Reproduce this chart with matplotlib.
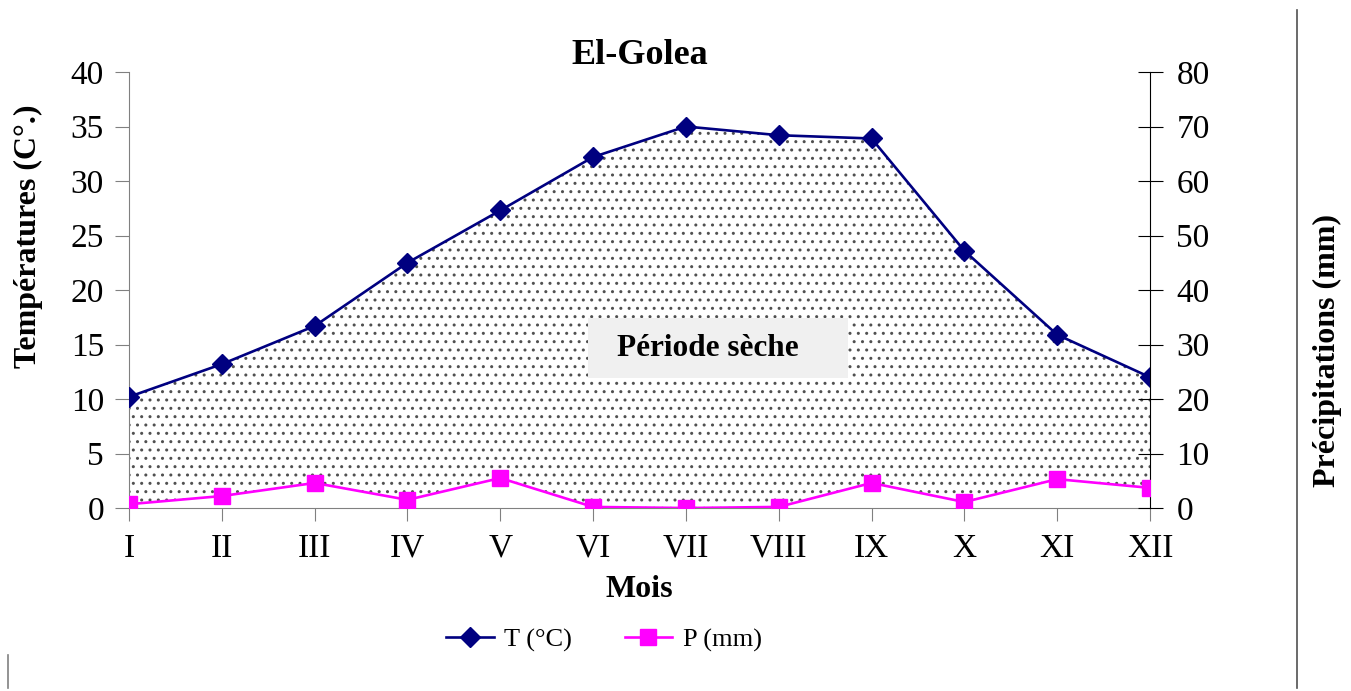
import matplotlib.pyplot as plt
from matplotlib.lines import Line2D
from matplotlib.patches import Rectangle
import numpy as np

plt.rcParams['font.family'] = ['Liberation Serif', 'DejaVu Serif']
plt.rcParams['hatch.color'] = '#505050'
plt.rcParams['hatch.linewidth'] = 1.0

# data
months = ['I', 'II', 'III', 'IV', 'V', 'VI', 'VII', 'VIII', 'IX', 'X', 'XI', 'XII']
temp = [10.2, 13.2, 16.7, 22.5, 27.3, 32.2, 35.0, 34.2, 33.9, 23.6, 15.9, 12.0]
precip = [0.7, 2.2, 4.6, 1.5, 5.5, 0.2, 0.0, 0.2, 4.6, 1.1, 5.3, 3.7]

x = np.arange(len(months))

fig = plt.figure(figsize=(13.51, 6.91), dpi=100)
ax = fig.add_axes([0.0955, 0.2648, 0.7557, 0.631])
ax2 = ax.twinx()

# dry period = area between T and P/2 (P axis is 2x T axis)
p_half = np.array(precip) / 2.0
ax.fill_between(x, p_half, temp, facecolor='white', edgecolor='#505050',
                hatch='..', linewidth=0, zorder=1)

ax.plot(x, temp, color='#000080', lw=1.9, marker='D', ms=10, zorder=3)
ax2.plot(x, precip, color='#ff00ff', lw=1.9, marker='s', ms=11, zorder=3)

ax.set_xlim(0, 11)
ax.set_ylim(0, 40)
ax2.set_ylim(0, 80)
ax.set_yticks(range(0, 41, 5))
ax2.set_yticks(range(0, 81, 10))
ax.set_xticks(x)
ax.set_xticklabels(months)

ax.spines['top'].set_visible(False)
ax2.spines['top'].set_visible(False)
ax.spines['right'].set_visible(False)
ax2.spines['left'].set_visible(False)
ax2.spines['bottom'].set_visible(False)
ax.spines['left'].set_color('#808080')
ax.spines['bottom'].set_color('#808080')
ax2.spines['right'].set_color('black')

ax.tick_params(axis='y', direction='out', length=10, color='#808080', labelsize=24, pad=8)
ax.tick_params(axis='x', direction='out', length=9, color='#808080', labelsize=24, pad=9)
ax2.tick_params(axis='y', direction='inout', length=18, color='black', labelsize=24, pad=10)

ax.set_title('El-Golea', fontsize=26, fontweight='bold', pad=2)
ax.set_xlabel('Mois', fontsize=23, fontweight='bold', labelpad=8)
ax.set_ylabel('Températures (C°.)', fontsize=23, fontweight='bold')
ax.yaxis.set_label_coords(-0.084, 0.624)
ax2.set_ylabel('Précipitations (mm)', fontsize=23, fontweight='bold')
ax2.yaxis.set_label_coords(1.16, 0.362)

# label box for the dry period
ax.add_patch(Rectangle((0.4496, 0.2982), 0.2547, 0.1376, transform=ax.transAxes,
                       facecolor='#f0f0f0', edgecolor='none', zorder=4))
ax.text(0.478, 0.367, 'Période sèche', transform=ax.transAxes, fontsize=22.5,
        fontweight='bold', va='center', ha='left', zorder=5)

ax.set_zorder(ax2.get_zorder() + 1)
ax.patch.set_visible(False)
ax2.set_zorder(ax.get_zorder() + 1)
ax2.patch.set_visible(False)

handles = [Line2D([], [], color='#000080', lw=1.9, marker='D', ms=10),
           Line2D([], [], color='#ff00ff', lw=1.9, marker='s', ms=11)]
fig.legend(handles, ['T (°C)', 'P (mm)'], loc='center', bbox_to_anchor=(0.447, 0.074),
           ncol=2, frameon=False, fontsize=19, handlelength=1.8, columnspacing=2.0,
           handletextpad=0.4)

# frame lines of the original page
fig.add_artist(Line2D([0.96, 0.96], [0.004, 0.986], color='#505050', lw=1.2))
fig.add_artist(Line2D([0.006, 0.006], [0.004, 0.052], color='#808080', lw=1.2))

fig.savefig('out.png', dpi=100)
